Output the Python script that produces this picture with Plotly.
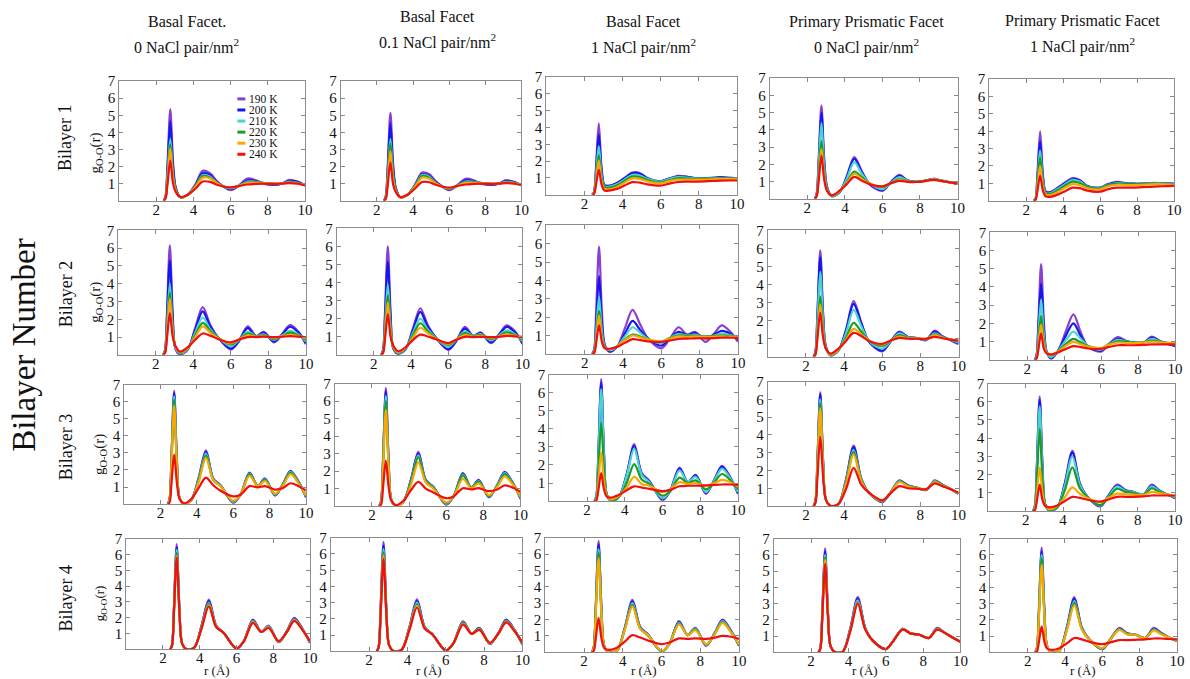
import numpy as np
import plotly.graph_objects as go

# O-O radial distribution functions g(r) of ice-surface bilayers
r = [2.4, 2.5, 2.6, 2.75, 2.9, 3.05, 3.3, 3.7, 4.1, 4.5, 4.9, 5.3,
     6.0, 6.4, 6.9, 7.35, 7.75, 8.3, 8.75, 9.15, 9.6, 10.0]
temperatures = ["190 K", "200 K", "210 K", "220 K", "230 K", "240 K"]
x_ticks = [2, 4, 6, 8, 10]
y_ticks = [1, 2, 3, 4, 5, 6, 7]
facet_titles = [
    ("Basal Facet.", "0 NaCl pair/nm<sup>2</sup>"),
    ("Basal Facet", "0.1 NaCl pair/nm<sup>2</sup>"),
    ("Basal Facet", "1 NaCl pair/nm<sup>2</sup>"),
    ("Primary Prismatic Facet", "0 NaCl pair/nm<sup>2</sup>"),
    ("Primary Prismatic Facet", "1 NaCl pair/nm<sup>2</sup>"),
]
bilayer_labels = ["Bilayer 1", "Bilayer 2", "Bilayer 3", "Bilayer 4"]

# each table: one row per r value, columns 190, 200, 210, 220, 230, 240 K
basal0_b1 = [
    [0, 0, 0, 0, 0, 0],
    [0.3, 0.25, 0.2, 0.2, 0.2, 0.15],
    [2.1, 1.85, 1.45, 1.3, 1.2, 0.95],
    [5.35, 4.65, 3.6, 3.3, 3.05, 2.35],
    [2.25, 1.95, 1.5, 1.4, 1.3, 1.0],
    [0.75, 0.7, 0.6, 0.6, 0.55, 0.5],
    [0.2, 0.2, 0.2, 0.2, 0.2, 0.22],
    [0.35, 0.35, 0.35, 0.35, 0.35, 0.35],
    [0.95, 0.9, 0.85, 0.85, 0.8, 0.7],
    [1.75, 1.6, 1.5, 1.45, 1.35, 1.12],
    [1.6, 1.5, 1.4, 1.35, 1.3, 1.1],
    [1.1, 1.05, 1.0, 1.0, 1.0, 0.92],
    [0.62, 0.68, 0.72, 0.75, 0.75, 0.78],
    [0.85, 0.85, 0.85, 0.85, 0.85, 0.85],
    [1.3, 1.2, 1.12, 1.08, 1.05, 0.95],
    [1.2, 1.15, 1.1, 1.08, 1.05, 0.98],
    [1.0, 1.02, 1.05, 1.05, 1.03, 1.0],
    [0.92, 0.95, 0.98, 1.0, 1.0, 0.98],
    [1.0, 1.0, 1.0, 1.0, 1.0, 1.0],
    [1.22, 1.15, 1.1, 1.08, 1.06, 1.03],
    [1.12, 1.1, 1.05, 1.05, 1.02, 1.0],
    [0.9, 0.9, 0.9, 0.9, 0.9, 0.9],
]
basal01_b1 = [
    [0, 0, 0, 0, 0, 0],
    [0.3, 0.25, 0.2, 0.2, 0.15, 0.12],
    [2.0, 1.8, 1.45, 1.35, 1.15, 0.9],
    [5.15, 4.55, 3.6, 3.35, 2.9, 2.25],
    [2.15, 1.9, 1.5, 1.4, 1.2, 0.95],
    [0.75, 0.7, 0.6, 0.6, 0.55, 0.5],
    [0.2, 0.2, 0.2, 0.2, 0.2, 0.22],
    [0.35, 0.35, 0.35, 0.35, 0.35, 0.35],
    [0.9, 0.9, 0.85, 0.85, 0.8, 0.7],
    [1.65, 1.55, 1.5, 1.45, 1.35, 1.1],
    [1.55, 1.45, 1.4, 1.35, 1.28, 1.08],
    [1.1, 1.05, 1.0, 1.0, 0.98, 0.92],
    [0.62, 0.66, 0.7, 0.72, 0.74, 0.76],
    [0.85, 0.85, 0.85, 0.85, 0.85, 0.85],
    [1.28, 1.2, 1.12, 1.08, 1.05, 0.95],
    [1.2, 1.15, 1.1, 1.08, 1.05, 0.98],
    [1.0, 1.02, 1.05, 1.05, 1.03, 1.0],
    [0.92, 0.95, 0.98, 1.0, 1.0, 0.98],
    [1.0, 1.0, 1.0, 1.0, 1.0, 1.0],
    [1.2, 1.15, 1.1, 1.08, 1.06, 1.03],
    [1.1, 1.08, 1.05, 1.04, 1.02, 1.0],
    [0.92, 0.92, 0.92, 0.92, 0.92, 0.92],
]
basal1_b1 = [
    [0, 0, 0, 0, 0, 0],
    [0.15, 0.12, 0.1, 0.08, 0.07, 0.05],
    [1.5, 1.3, 1.05, 0.85, 0.75, 0.55],
    [4.25, 3.6, 2.9, 2.35, 2.05, 1.5],
    [1.6, 1.4, 1.15, 0.95, 0.8, 0.6],
    [0.6, 0.55, 0.5, 0.45, 0.35, 0.25],
    [0.55, 0.52, 0.48, 0.42, 0.33, 0.25],
    [0.7, 0.68, 0.62, 0.55, 0.45, 0.35],
    [1.0, 0.98, 0.9, 0.82, 0.72, 0.55],
    [1.32, 1.28, 1.18, 1.08, 0.98, 0.75],
    [1.3, 1.25, 1.15, 1.05, 0.95, 0.72],
    [1.0, 0.98, 0.95, 0.88, 0.8, 0.62],
    [0.8, 0.8, 0.78, 0.72, 0.68, 0.55],
    [0.95, 0.95, 0.92, 0.85, 0.8, 0.65],
    [1.12, 1.08, 1.05, 0.98, 0.9, 0.76],
    [1.08, 1.06, 1.02, 0.97, 0.9, 0.78],
    [1.0, 1.0, 0.98, 0.95, 0.9, 0.78],
    [0.98, 0.98, 0.96, 0.95, 0.9, 0.8],
    [1.02, 1.0, 0.98, 0.96, 0.92, 0.82],
    [1.05, 1.03, 1.0, 0.98, 0.94, 0.84],
    [1.02, 1.0, 0.98, 0.96, 0.93, 0.85],
    [0.98, 0.97, 0.95, 0.94, 0.92, 0.85],
]
prism0_b1 = [
    [0, 0, 0, 0, 0, 0],
    [0.3, 0.28, 0.25, 0.2, 0.18, 0.15],
    [2.15, 2.0, 1.75, 1.35, 1.15, 1.0],
    [5.4, 5.0, 4.4, 3.35, 2.9, 2.5],
    [2.3, 2.1, 1.85, 1.45, 1.3, 1.1],
    [0.7, 0.65, 0.6, 0.55, 0.5, 0.45],
    [0.15, 0.15, 0.15, 0.17, 0.18, 0.2],
    [0.35, 0.35, 0.38, 0.4, 0.42, 0.45],
    [1.3, 1.25, 1.15, 0.95, 0.9, 0.85],
    [2.42, 2.32, 2.12, 1.58, 1.45, 1.27],
    [1.6, 1.55, 1.45, 1.25, 1.15, 1.05],
    [0.85, 0.88, 0.9, 0.9, 0.88, 0.85],
    [0.45, 0.5, 0.55, 0.67, 0.7, 0.72],
    [0.9, 0.9, 0.88, 0.88, 0.88, 0.88],
    [1.38, 1.33, 1.25, 1.12, 1.08, 1.04],
    [1.05, 1.05, 1.05, 1.02, 1.0, 0.98],
    [0.98, 0.98, 0.98, 0.98, 0.97, 0.97],
    [1.05, 1.05, 1.05, 1.05, 1.04, 1.03],
    [1.15, 1.15, 1.14, 1.13, 1.12, 1.1],
    [1.05, 1.05, 1.05, 1.04, 1.03, 1.02],
    [0.95, 0.95, 0.95, 0.95, 0.95, 0.95],
    [0.88, 0.88, 0.88, 0.88, 0.88, 0.88],
]
prism1_b1 = [
    [0, 0, 0, 0, 0, 0],
    [0.12, 0.1, 0.08, 0.07, 0.06, 0.05],
    [1.45, 1.25, 1.05, 0.9, 0.72, 0.52],
    [4.0, 3.4, 2.9, 2.5, 2.0, 1.45],
    [1.55, 1.35, 1.15, 1.0, 0.8, 0.58],
    [0.55, 0.5, 0.45, 0.42, 0.35, 0.25],
    [0.5, 0.47, 0.42, 0.38, 0.32, 0.22],
    [0.75, 0.72, 0.68, 0.6, 0.5, 0.35],
    [1.05, 1.0, 0.95, 0.88, 0.75, 0.55],
    [1.3, 1.25, 1.2, 1.1, 0.95, 0.75],
    [1.2, 1.15, 1.1, 1.02, 0.9, 0.72],
    [0.85, 0.85, 0.82, 0.8, 0.72, 0.58],
    [0.75, 0.75, 0.73, 0.7, 0.65, 0.52],
    [0.95, 0.93, 0.9, 0.88, 0.82, 0.65],
    [1.08, 1.05, 1.02, 0.98, 0.92, 0.75],
    [1.02, 1.0, 0.98, 0.96, 0.9, 0.75],
    [0.98, 0.98, 0.96, 0.95, 0.9, 0.75],
    [0.98, 0.98, 0.97, 0.96, 0.92, 0.78],
    [1.02, 1.0, 1.0, 0.98, 0.94, 0.8],
    [1.02, 1.0, 1.0, 0.98, 0.95, 0.82],
    [1.0, 1.0, 0.98, 0.97, 0.94, 0.84],
    [0.98, 0.97, 0.96, 0.95, 0.93, 0.85],
]
basal0_b2 = [
    [0, 0, 0, 0, 0, 0],
    [0.3, 0.25, 0.2, 0.18, 0.15, 0.12],
    [2.4, 2.1, 1.6, 1.4, 1.25, 0.95],
    [6.15, 5.3, 4.0, 3.5, 3.15, 2.35],
    [2.4, 2.1, 1.6, 1.45, 1.3, 1.05],
    [0.35, 0.35, 0.4, 0.45, 0.45, 0.5],
    [0.02, 0.04, 0.08, 0.12, 0.14, 0.18],
    [0.3, 0.3, 0.32, 0.35, 0.38, 0.42],
    [1.5, 1.4, 1.25, 1.1, 1.0, 0.85],
    [2.68, 2.45, 2.1, 1.8, 1.6, 1.2],
    [1.7, 1.6, 1.45, 1.35, 1.25, 1.08],
    [1.0, 1.0, 1.0, 0.98, 0.95, 0.9],
    [0.3, 0.35, 0.5, 0.6, 0.65, 0.7],
    [0.7, 0.75, 0.8, 0.82, 0.85, 0.85],
    [1.6, 1.5, 1.3, 1.2, 1.1, 1.0],
    [1.05, 1.05, 1.05, 1.05, 1.02, 1.0],
    [1.3, 1.25, 1.15, 1.1, 1.05, 1.02],
    [0.7, 0.75, 0.85, 0.9, 0.95, 1.0],
    [1.2, 1.15, 1.1, 1.05, 1.05, 1.02],
    [1.68, 1.58, 1.35, 1.25, 1.12, 1.05],
    [1.3, 1.25, 1.15, 1.1, 1.05, 1.02],
    [0.6, 0.65, 0.75, 0.85, 0.92, 1.0],
]
basal01_b2 = [
    [0, 0, 0, 0, 0, 0],
    [0.3, 0.25, 0.2, 0.17, 0.15, 0.12],
    [2.35, 2.05, 1.55, 1.3, 1.15, 0.9],
    [6.0, 5.15, 3.9, 3.3, 2.9, 2.25],
    [2.35, 2.05, 1.55, 1.35, 1.2, 1.0],
    [0.35, 0.35, 0.4, 0.42, 0.45, 0.5],
    [0.05, 0.08, 0.1, 0.12, 0.15, 0.2],
    [0.3, 0.3, 0.32, 0.35, 0.38, 0.42],
    [1.45, 1.35, 1.2, 1.08, 0.95, 0.82],
    [2.58, 2.38, 2.0, 1.75, 1.5, 1.12],
    [1.65, 1.55, 1.4, 1.3, 1.2, 1.02],
    [1.0, 1.0, 0.98, 0.95, 0.92, 0.88],
    [0.27, 0.32, 0.45, 0.55, 0.6, 0.65],
    [0.7, 0.72, 0.78, 0.8, 0.82, 0.82],
    [1.55, 1.45, 1.3, 1.2, 1.1, 1.0],
    [1.05, 1.05, 1.05, 1.03, 1.0, 0.98],
    [1.25, 1.2, 1.15, 1.1, 1.05, 1.0],
    [0.65, 0.7, 0.8, 0.88, 0.93, 0.98],
    [1.15, 1.12, 1.08, 1.05, 1.03, 1.0],
    [1.63, 1.55, 1.35, 1.25, 1.12, 1.05],
    [1.3, 1.25, 1.15, 1.1, 1.05, 1.02],
    [0.6, 0.65, 0.75, 0.85, 0.92, 1.0],
]
basal1_b2 = [
    [0, 0, 0, 0, 0, 0],
    [0.25, 0.2, 0.15, 0.1, 0.08, 0.06],
    [2.25, 1.65, 1.2, 0.9, 0.8, 0.6],
    [5.85, 4.25, 3.1, 2.35, 2.1, 1.55],
    [2.3, 1.7, 1.25, 0.95, 0.85, 0.65],
    [0.5, 0.45, 0.4, 0.35, 0.32, 0.3],
    [0.1, 0.15, 0.2, 0.25, 0.25, 0.28],
    [0.4, 0.4, 0.4, 0.42, 0.42, 0.38],
    [1.4, 1.1, 0.95, 0.78, 0.75, 0.6],
    [2.4, 1.8, 1.45, 1.05, 1.0, 0.8],
    [1.6, 1.3, 1.15, 0.95, 0.9, 0.75],
    [0.85, 0.85, 0.82, 0.8, 0.78, 0.68],
    [0.3, 0.45, 0.58, 0.65, 0.68, 0.65],
    [0.75, 0.8, 0.85, 0.85, 0.82, 0.72],
    [1.45, 1.2, 1.08, 1.0, 0.95, 0.82],
    [1.05, 1.02, 1.0, 0.98, 0.93, 0.83],
    [1.2, 1.15, 1.05, 1.0, 0.95, 0.85],
    [0.65, 0.85, 0.92, 0.95, 0.92, 0.85],
    [1.1, 1.05, 1.0, 0.98, 0.94, 0.86],
    [1.55, 1.25, 1.1, 1.0, 0.95, 0.88],
    [1.2, 1.1, 1.02, 0.98, 0.94, 0.88],
    [0.65, 0.8, 0.9, 0.95, 0.93, 0.88],
]
prism0_b2 = [
    [0, 0, 0, 0, 0, 0],
    [0.3, 0.28, 0.24, 0.18, 0.15, 0.13],
    [2.35, 2.2, 1.9, 1.35, 1.15, 1.0],
    [5.9, 5.5, 4.7, 3.35, 2.9, 2.45],
    [2.4, 2.25, 1.95, 1.45, 1.25, 1.05],
    [0.55, 0.52, 0.5, 0.45, 0.45, 0.45],
    [0.08, 0.08, 0.1, 0.12, 0.14, 0.18],
    [0.35, 0.35, 0.35, 0.38, 0.4, 0.45],
    [1.5, 1.45, 1.3, 1.05, 0.95, 0.88],
    [3.08, 2.93, 2.6, 1.88, 1.55, 1.33],
    [1.9, 1.85, 1.7, 1.4, 1.25, 1.15],
    [0.85, 0.85, 0.88, 0.9, 0.9, 0.88],
    [0.3, 0.35, 0.45, 0.6, 0.68, 0.72],
    [0.8, 0.8, 0.82, 0.85, 0.88, 0.88],
    [1.4, 1.35, 1.3, 1.2, 1.12, 1.05],
    [1.1, 1.1, 1.08, 1.05, 1.03, 1.0],
    [1.05, 1.05, 1.05, 1.03, 1.02, 1.0],
    [0.92, 0.95, 0.97, 0.98, 1.0, 1.0],
    [1.45, 1.4, 1.3, 1.25, 1.2, 1.1],
    [1.15, 1.12, 1.1, 1.08, 1.06, 1.03],
    [0.9, 0.92, 0.93, 0.95, 0.95, 0.95],
    [0.7, 0.75, 0.8, 0.85, 0.88, 0.9],
]
prism1_b2 = [
    [0, 0, 0, 0, 0, 0],
    [0.25, 0.2, 0.15, 0.1, 0.08, 0.06],
    [2.05, 1.65, 1.3, 0.95, 0.75, 0.55],
    [5.25, 4.2, 3.3, 2.4, 1.95, 1.45],
    [2.1, 1.7, 1.35, 1.0, 0.8, 0.6],
    [0.45, 0.42, 0.42, 0.4, 0.38, 0.35],
    [0.05, 0.1, 0.15, 0.25, 0.28, 0.3],
    [0.55, 0.55, 0.52, 0.5, 0.48, 0.42],
    [1.6, 1.35, 1.1, 0.88, 0.78, 0.6],
    [2.5, 2.0, 1.55, 1.15, 0.98, 0.75],
    [1.5, 1.3, 1.15, 0.95, 0.85, 0.7],
    [0.7, 0.72, 0.75, 0.75, 0.72, 0.62],
    [0.45, 0.5, 0.55, 0.63, 0.65, 0.6],
    [0.85, 0.85, 0.85, 0.85, 0.82, 0.7],
    [1.25, 1.15, 1.1, 1.02, 0.95, 0.8],
    [1.05, 1.02, 1.0, 0.98, 0.92, 0.8],
    [0.95, 0.95, 0.95, 0.95, 0.92, 0.8],
    [0.95, 0.95, 0.95, 0.96, 0.94, 0.82],
    [1.28, 1.22, 1.15, 1.05, 1.0, 0.85],
    [1.05, 1.03, 1.02, 1.0, 0.96, 0.85],
    [0.85, 0.88, 0.9, 0.93, 0.93, 0.85],
    [0.75, 0.78, 0.85, 0.9, 0.92, 0.85],
]
basal0_b3 = [
    [0, 0, 0, 0, 0, 0],
    [0.3, 0.3, 0.28, 0.27, 0.25, 0.1],
    [2.6, 2.55, 2.45, 2.4, 2.25, 1.15],
    [6.65, 6.5, 6.3, 6.1, 5.75, 2.9],
    [2.6, 2.55, 2.45, 2.4, 2.3, 1.25],
    [0.35, 0.35, 0.35, 0.35, 0.35, 0.3],
    [0.0, 0.0, 0.0, 0.0, 0.0, 0.05],
    [0.25, 0.25, 0.25, 0.25, 0.25, 0.3],
    [1.55, 1.5, 1.45, 1.4, 1.3, 0.95],
    [3.15, 3.05, 2.95, 2.85, 2.7, 1.55],
    [1.5, 1.48, 1.45, 1.42, 1.4, 1.1],
    [1.1, 1.1, 1.08, 1.06, 1.05, 0.78],
    [0.08, 0.1, 0.12, 0.15, 0.18, 0.45],
    [0.55, 0.55, 0.55, 0.55, 0.55, 0.55],
    [1.85, 1.82, 1.78, 1.75, 1.65, 1.05],
    [1.05, 1.05, 1.05, 1.05, 1.05, 0.98],
    [1.5, 1.47, 1.45, 1.42, 1.35, 1.05],
    [0.5, 0.52, 0.55, 0.57, 0.6, 0.85],
    [1.2, 1.2, 1.18, 1.15, 1.12, 0.95],
    [1.95, 1.92, 1.88, 1.85, 1.75, 1.22],
    [1.3, 1.3, 1.28, 1.25, 1.2, 1.05],
    [0.4, 0.42, 0.45, 0.48, 0.5, 0.8],
]
basal01_b3 = [
    [0, 0, 0, 0, 0, 0],
    [0.3, 0.3, 0.28, 0.27, 0.25, 0.1],
    [2.65, 2.55, 2.45, 2.35, 2.15, 1.05],
    [6.75, 6.55, 6.3, 6.0, 5.5, 2.6],
    [2.65, 2.55, 2.45, 2.35, 2.2, 1.1],
    [0.35, 0.35, 0.35, 0.35, 0.35, 0.3],
    [0.0, 0.0, 0.0, 0.0, 0.0, 0.05],
    [0.25, 0.25, 0.25, 0.25, 0.25, 0.3],
    [1.5, 1.45, 1.4, 1.35, 1.2, 0.9],
    [3.1, 3.0, 2.9, 2.8, 2.5, 1.38],
    [1.5, 1.48, 1.45, 1.42, 1.35, 1.0],
    [1.1, 1.1, 1.08, 1.06, 1.0, 0.78],
    [0.08, 0.1, 0.12, 0.15, 0.2, 0.45],
    [0.55, 0.55, 0.55, 0.55, 0.55, 0.55],
    [1.88, 1.85, 1.8, 1.75, 1.55, 1.02],
    [1.05, 1.05, 1.05, 1.05, 1.02, 0.95],
    [1.5, 1.47, 1.42, 1.4, 1.3, 1.02],
    [0.5, 0.52, 0.55, 0.57, 0.62, 0.85],
    [1.2, 1.2, 1.18, 1.15, 1.1, 0.95],
    [1.95, 1.92, 1.88, 1.82, 1.7, 1.18],
    [1.3, 1.3, 1.28, 1.25, 1.2, 1.05],
    [0.42, 0.45, 0.48, 0.5, 0.55, 0.82],
]
basal1_b3 = [
    [0, 0, 0, 0, 0, 0],
    [0.3, 0.3, 0.28, 0.2, 0.12, 0.06],
    [2.65, 2.55, 2.4, 1.7, 1.05, 0.6],
    [6.75, 6.55, 6.2, 4.35, 2.7, 1.55],
    [2.65, 2.55, 2.45, 1.75, 1.1, 0.65],
    [0.35, 0.35, 0.35, 0.35, 0.3, 0.25],
    [0.0, 0.0, 0.0, 0.05, 0.1, 0.2],
    [0.25, 0.25, 0.25, 0.25, 0.3, 0.35],
    [1.5, 1.45, 1.4, 1.0, 0.75, 0.6],
    [3.15, 3.05, 2.9, 2.05, 1.35, 0.82],
    [1.55, 1.5, 1.45, 1.2, 0.95, 0.75],
    [1.12, 1.1, 1.05, 0.95, 0.85, 0.68],
    [0.05, 0.1, 0.15, 0.3, 0.5, 0.55],
    [0.55, 0.55, 0.55, 0.55, 0.65, 0.62],
    [1.85, 1.8, 1.7, 1.3, 1.05, 0.82],
    [1.05, 1.05, 1.05, 1.0, 0.95, 0.85],
    [1.45, 1.42, 1.35, 1.15, 1.0, 0.85],
    [0.4, 0.45, 0.5, 0.65, 0.85, 0.87],
    [1.2, 1.18, 1.15, 1.05, 1.0, 0.9],
    [1.95, 1.9, 1.8, 1.5, 1.18, 0.92],
    [1.3, 1.28, 1.25, 1.15, 1.05, 0.92],
    [0.4, 0.45, 0.5, 0.65, 0.8, 0.9],
]
prism0_b3 = [
    [0, 0, 0, 0, 0, 0],
    [0.3, 0.3, 0.28, 0.27, 0.25, 0.18],
    [2.5, 2.45, 2.35, 2.25, 2.15, 1.55],
    [6.4, 6.3, 6.0, 5.8, 5.5, 3.9],
    [2.55, 2.5, 2.4, 2.3, 2.2, 1.65],
    [0.35, 0.35, 0.35, 0.35, 0.35, 0.35],
    [0.0, 0.0, 0.0, 0.0, 0.0, 0.02],
    [0.1, 0.1, 0.1, 0.1, 0.1, 0.12],
    [1.5, 1.45, 1.4, 1.35, 1.25, 0.95],
    [3.4, 3.3, 3.15, 3.05, 2.9, 2.15],
    [1.55, 1.52, 1.5, 1.45, 1.4, 1.2],
    [0.75, 0.75, 0.75, 0.75, 0.75, 0.75],
    [0.22, 0.24, 0.26, 0.28, 0.3, 0.32],
    [0.7, 0.7, 0.7, 0.7, 0.7, 0.68],
    [1.45, 1.42, 1.4, 1.38, 1.35, 1.12],
    [1.15, 1.15, 1.12, 1.12, 1.1, 1.0],
    [1.05, 1.05, 1.05, 1.05, 1.02, 0.98],
    [0.9, 0.9, 0.92, 0.92, 0.93, 0.95],
    [1.45, 1.42, 1.4, 1.38, 1.35, 1.28],
    [1.2, 1.2, 1.18, 1.18, 1.15, 1.12],
    [0.95, 0.95, 0.95, 0.95, 0.95, 0.95],
    [0.7, 0.7, 0.7, 0.7, 0.72, 0.75],
]
prism1_b3 = [
    [0, 0, 0, 0, 0, 0],
    [0.3, 0.28, 0.27, 0.2, 0.12, 0.06],
    [2.45, 2.4, 2.25, 1.75, 0.95, 0.55],
    [6.3, 6.1, 5.75, 4.5, 2.4, 1.45],
    [2.5, 2.45, 2.3, 1.8, 1.0, 0.6],
    [0.35, 0.35, 0.35, 0.35, 0.3, 0.28],
    [0.0, 0.0, 0.0, 0.05, 0.1, 0.2],
    [0.2, 0.2, 0.2, 0.22, 0.28, 0.3],
    [1.55, 1.5, 1.4, 1.15, 0.75, 0.55],
    [3.3, 3.2, 3.0, 2.4, 1.3, 0.78],
    [1.55, 1.5, 1.45, 1.25, 0.95, 0.72],
    [0.8, 0.8, 0.8, 0.78, 0.72, 0.62],
    [0.25, 0.28, 0.3, 0.32, 0.48, 0.52],
    [0.8, 0.78, 0.75, 0.7, 0.7, 0.62],
    [1.45, 1.4, 1.35, 1.22, 0.95, 0.78],
    [1.15, 1.12, 1.1, 1.05, 0.92, 0.78],
    [1.05, 1.05, 1.05, 1.0, 0.9, 0.78],
    [0.9, 0.9, 0.9, 0.88, 0.88, 0.8],
    [1.45, 1.4, 1.35, 1.25, 1.05, 0.85],
    [1.15, 1.12, 1.1, 1.05, 0.98, 0.85],
    [0.9, 0.9, 0.9, 0.9, 0.9, 0.85],
    [0.7, 0.72, 0.75, 0.78, 0.82, 0.85],
]
basal0_b4 = [
    [0, 0, 0, 0, 0, 0],
    [0.3, 0.3, 0.28, 0.27, 0.26, 0.25],
    [2.6, 2.55, 2.45, 2.4, 2.3, 2.25],
    [6.65, 6.45, 6.3, 6.1, 5.9, 5.8],
    [2.65, 2.55, 2.5, 2.45, 2.35, 2.35],
    [0.35, 0.35, 0.35, 0.35, 0.35, 0.35],
    [0.0, 0.0, 0.0, 0.0, 0.0, 0.0],
    [0.1, 0.1, 0.1, 0.1, 0.1, 0.1],
    [1.5, 1.45, 1.4, 1.38, 1.35, 1.3],
    [3.15, 3.05, 2.95, 2.9, 2.8, 2.72],
    [1.5, 1.48, 1.45, 1.44, 1.42, 1.4],
    [1.05, 1.05, 1.05, 1.05, 1.05, 1.05],
    [0.05, 0.05, 0.05, 0.05, 0.05, 0.05],
    [0.5, 0.5, 0.5, 0.5, 0.5, 0.5],
    [1.88, 1.85, 1.8, 1.75, 1.72, 1.68],
    [1.1, 1.1, 1.1, 1.1, 1.1, 1.1],
    [1.5, 1.47, 1.45, 1.42, 1.4, 1.35],
    [0.45, 0.47, 0.48, 0.5, 0.5, 0.52],
    [1.15, 1.15, 1.12, 1.12, 1.1, 1.1],
    [2.0, 1.95, 1.9, 1.88, 1.85, 1.8],
    [1.3, 1.28, 1.27, 1.25, 1.25, 1.22],
    [0.42, 0.44, 0.46, 0.48, 0.5, 0.52],
]
basal01_b4 = [
    [0, 0, 0, 0, 0, 0],
    [0.3, 0.3, 0.28, 0.27, 0.26, 0.25],
    [2.65, 2.55, 2.45, 2.4, 2.3, 2.2],
    [6.75, 6.5, 6.3, 6.1, 5.9, 5.7],
    [2.7, 2.6, 2.5, 2.45, 2.35, 2.3],
    [0.35, 0.35, 0.35, 0.35, 0.35, 0.35],
    [0.0, 0.0, 0.0, 0.0, 0.0, 0.0],
    [0.1, 0.1, 0.1, 0.1, 0.1, 0.1],
    [1.5, 1.45, 1.42, 1.38, 1.35, 1.3],
    [3.2, 3.1, 3.0, 2.9, 2.8, 2.7],
    [1.5, 1.48, 1.46, 1.44, 1.42, 1.4],
    [1.05, 1.05, 1.05, 1.05, 1.05, 1.05],
    [0.05, 0.05, 0.05, 0.05, 0.05, 0.05],
    [0.5, 0.5, 0.5, 0.5, 0.5, 0.5],
    [1.85, 1.82, 1.78, 1.75, 1.7, 1.65],
    [1.08, 1.08, 1.08, 1.08, 1.08, 1.08],
    [1.45, 1.43, 1.4, 1.38, 1.35, 1.32],
    [0.45, 0.46, 0.48, 0.5, 0.5, 0.52],
    [1.15, 1.14, 1.12, 1.11, 1.1, 1.1],
    [1.95, 1.92, 1.88, 1.85, 1.82, 1.78],
    [1.3, 1.28, 1.27, 1.25, 1.24, 1.22],
    [0.42, 0.44, 0.46, 0.48, 0.5, 0.52],
]
basal1_b4 = [
    [0, 0, 0, 0, 0, 0],
    [0.3, 0.3, 0.28, 0.27, 0.25, 0.08],
    [2.65, 2.6, 2.45, 2.4, 2.25, 0.8],
    [6.8, 6.6, 6.3, 6.1, 5.75, 2.1],
    [2.7, 2.6, 2.5, 2.4, 2.3, 0.85],
    [0.35, 0.35, 0.35, 0.35, 0.35, 0.25],
    [0.0, 0.0, 0.0, 0.0, 0.0, 0.15],
    [0.1, 0.1, 0.1, 0.1, 0.1, 0.28],
    [1.5, 1.45, 1.42, 1.4, 1.35, 0.65],
    [3.2, 3.1, 3.0, 2.9, 2.8, 1.05],
    [1.55, 1.5, 1.48, 1.45, 1.42, 0.9],
    [1.1, 1.08, 1.06, 1.05, 1.05, 0.72],
    [0.05, 0.05, 0.05, 0.06, 0.07, 0.5],
    [0.5, 0.5, 0.5, 0.5, 0.5, 0.6],
    [1.9, 1.85, 1.8, 1.75, 1.7, 0.85],
    [1.05, 1.05, 1.05, 1.05, 1.05, 0.82],
    [1.5, 1.47, 1.45, 1.4, 1.35, 0.85],
    [0.4, 0.42, 0.45, 0.48, 0.5, 0.82],
    [1.2, 1.18, 1.15, 1.12, 1.1, 0.9],
    [2.0, 1.95, 1.9, 1.85, 1.8, 1.0],
    [1.3, 1.28, 1.25, 1.22, 1.2, 0.95],
    [0.4, 0.42, 0.44, 0.46, 0.48, 0.82],
]
prism0_b4 = [
    [0, 0, 0, 0, 0, 0],
    [0.3, 0.28, 0.27, 0.26, 0.25, 0.24],
    [2.5, 2.4, 2.35, 2.3, 2.25, 2.15],
    [6.4, 6.2, 6.0, 5.85, 5.7, 5.45],
    [2.55, 2.45, 2.4, 2.35, 2.3, 2.2],
    [0.35, 0.35, 0.35, 0.35, 0.35, 0.35],
    [0.0, 0.0, 0.0, 0.0, 0.0, 0.0],
    [0.05, 0.05, 0.05, 0.05, 0.05, 0.05],
    [1.5, 1.45, 1.4, 1.38, 1.35, 1.3],
    [3.4, 3.3, 3.2, 3.1, 3.05, 3.0],
    [1.5, 1.48, 1.45, 1.45, 1.42, 1.4],
    [0.72, 0.72, 0.72, 0.72, 0.72, 0.72],
    [0.2, 0.2, 0.2, 0.2, 0.2, 0.2],
    [0.7, 0.7, 0.7, 0.7, 0.7, 0.7],
    [1.45, 1.45, 1.43, 1.42, 1.4, 1.4],
    [1.15, 1.15, 1.15, 1.15, 1.15, 1.15],
    [1.1, 1.1, 1.1, 1.1, 1.1, 1.1],
    [0.88, 0.88, 0.88, 0.88, 0.88, 0.88],
    [1.5, 1.48, 1.46, 1.45, 1.42, 1.4],
    [1.2, 1.2, 1.2, 1.2, 1.2, 1.2],
    [0.9, 0.9, 0.9, 0.9, 0.9, 0.9],
    [0.65, 0.65, 0.65, 0.65, 0.65, 0.65],
]
prism1_b4 = [
    [0, 0, 0, 0, 0, 0],
    [0.3, 0.28, 0.27, 0.26, 0.24, 0.06],
    [2.5, 2.4, 2.35, 2.25, 2.1, 0.6],
    [6.45, 6.2, 6.0, 5.8, 5.4, 1.6],
    [2.55, 2.45, 2.4, 2.3, 2.15, 0.65],
    [0.35, 0.35, 0.35, 0.35, 0.35, 0.22],
    [0.0, 0.0, 0.0, 0.0, 0.0, 0.15],
    [0.1, 0.1, 0.1, 0.1, 0.1, 0.25],
    [1.55, 1.5, 1.45, 1.4, 1.35, 0.55],
    [3.4, 3.3, 3.15, 3.05, 2.9, 0.88],
    [1.55, 1.5, 1.48, 1.45, 1.4, 0.8],
    [0.8, 0.8, 0.8, 0.78, 0.78, 0.65],
    [0.2, 0.2, 0.22, 0.22, 0.25, 0.5],
    [0.75, 0.75, 0.75, 0.75, 0.75, 0.6],
    [1.5, 1.45, 1.42, 1.4, 1.38, 0.75],
    [1.15, 1.15, 1.12, 1.12, 1.1, 0.75],
    [1.1, 1.1, 1.1, 1.08, 1.08, 0.77],
    [0.88, 0.88, 0.88, 0.88, 0.88, 0.8],
    [1.5, 1.45, 1.42, 1.4, 1.35, 0.85],
    [1.2, 1.18, 1.15, 1.15, 1.12, 0.85],
    [0.9, 0.9, 0.9, 0.9, 0.9, 0.82],
    [0.7, 0.7, 0.7, 0.72, 0.72, 0.8],
]

panels = [
    [basal0_b1, basal01_b1, basal1_b1, prism0_b1, prism1_b1],
    [basal0_b2, basal01_b2, basal1_b2, prism0_b2, prism1_b2],
    [basal0_b3, basal01_b3, basal1_b3, prism0_b3, prism1_b3],
    [basal0_b4, basal01_b4, basal1_b4, prism0_b4, prism1_b4],
]

# ---- styling / layout ----
W, H = 1190, 679
SERIF = "Liberation Serif, Times New Roman, serif"
line_colors = ["#8a3fd1", "#1515f0", "#46d6d0", "#1c9a2a", "#f9a800", "#f01010"]

# panel frames in pixels: (left, right) per row/column, (top, bottom) per row/column
col_px = [
    [(120, 307), (343, 525), (550, 742), (775, 964), (996, 1182)],
    [(119, 308), (339, 526), (550, 743), (773, 965), (997, 1183)],
    [(125, 308), (337, 524), (553, 743), (773, 965), (995, 1183)],
    [(127, 312), (333, 526), (549, 744), (779, 967), (997, 1185)],
]
row_top_px = [[74, 74, 70, 71, 72], [225, 223, 220, 225, 227],
              [381, 380, 371, 378, 380], [537, 536, 536, 537, 537]]
row_bot_px = [[195, 195, 189, 193, 195], [351, 351, 350, 353, 356],
              [502, 504, 499, 504, 509], [649, 651, 652, 652, 652]]


def fx(px):
    return px / W


def fy(py):
    return 1 - py / H


def label(text, px, py, size, angle=0, xanchor="center"):
    return dict(text=text, x=fx(px), y=fy(py), xref="paper", yref="paper",
                xanchor=xanchor, yanchor="middle", showarrow=False,
                textangle=angle, borderpad=0,
                font=dict(family=SERIF, size=size, color="#111111"))


fig = go.Figure()
layout_axes = {}
axis_font = dict(family=SERIF, size=15, color="#111111")

for i in range(4):
    for j in range(5):
        k = i * 5 + j + 1
        sfx = "" if k == 1 else str(k)
        table = np.array(panels[i][j]).T
        for t, name in enumerate(temperatures):
            fig.add_trace(go.Scatter(
                x=r, y=table[t], mode="lines", name=name,
                legendgroup=name, showlegend=False,
                line=dict(color=line_colors[t], width=2.2,
                          shape="spline", smoothing=0.9),
                xaxis="x" + sfx, yaxis="y" + sfx,
            ))
        layout_axes["xaxis" + sfx] = dict(
            domain=[fx(col_px[i][j][0]), fx(col_px[i][j][1])],
            range=[0, 10], tickvals=x_ticks, anchor="y" + sfx,
            ticks="inside", ticklen=4, tickcolor="#888888",
            ticklabelstandoff=-5,
            showline=True, linecolor="#8c8c8c", linewidth=1, mirror="ticks",
            showgrid=False, zeroline=False, tickfont=axis_font,
        )
        layout_axes["yaxis" + sfx] = dict(
            domain=[fy(row_bot_px[i][j]), fy(row_top_px[i][j])],
            range=[0, 7], tickvals=y_ticks, anchor="x" + sfx,
            ticks="inside", ticklen=4, tickcolor="#888888",
            showline=True, linecolor="#8c8c8c", linewidth=1, mirror="ticks",
            showgrid=False, zeroline=False, tickfont=axis_font,
        )

annotations = []
shapes = []

# column titles
title_cx = [188, 440, 648, 872, 1090]
title_y1 = [14, 9, 14, 14, 13]
for j, (l1, l2) in enumerate(facet_titles):
    annotations.append(label(l1, title_cx[j], title_y1[j], 16))
    annotations.append(label(l2, title_cx[j], title_y1[j] + 25, 16))

# row labels and g(r) axis titles
row_label_cy = [132, 290, 445, 598]
g_label_cy = [147, 298, 452, 602]
g_x = [97, 97, 100, 102]
g_sizes = [15, 15, 15, 13]
for i, lab in enumerate(bilayer_labels):
    annotations.append(label(lab, 66, row_label_cy[i], 18, angle=-90))
    annotations.append(label("g<sub>O-O</sub>(r)", g_x[i], g_label_cy[i],
                             g_sizes[i], angle=-90))

annotations.append(label("Bilayer Number", 24, 341, 33, angle=-90))

# r axis titles under the bottom row
r_label_cx = [218, 432, 648, 871, 1090]
for cx in r_label_cx:
    annotations.append(label("r (Å)", cx, 670, 13))

# temperature key inside the first panel
key_y = [92, 103.2, 114.4, 125.6, 136.8, 148]
for t, name in enumerate(temperatures):
    shapes.append(dict(type="line", xref="paper", yref="paper",
                       x0=fx(239), x1=fx(247), y0=fy(key_y[t]), y1=fy(key_y[t]),
                       line=dict(color=line_colors[t], width=3)))
    annotations.append(label(name, 250, key_y[t], 11.5, xanchor="left"))

fig.update_layout(
    width=W, height=H,
    margin=dict(l=0, r=0, t=0, b=0),
    paper_bgcolor="white", plot_bgcolor="white",
    showlegend=False,
    annotations=annotations, shapes=shapes,
    **layout_axes,
)

fig.write_html("out.html")
